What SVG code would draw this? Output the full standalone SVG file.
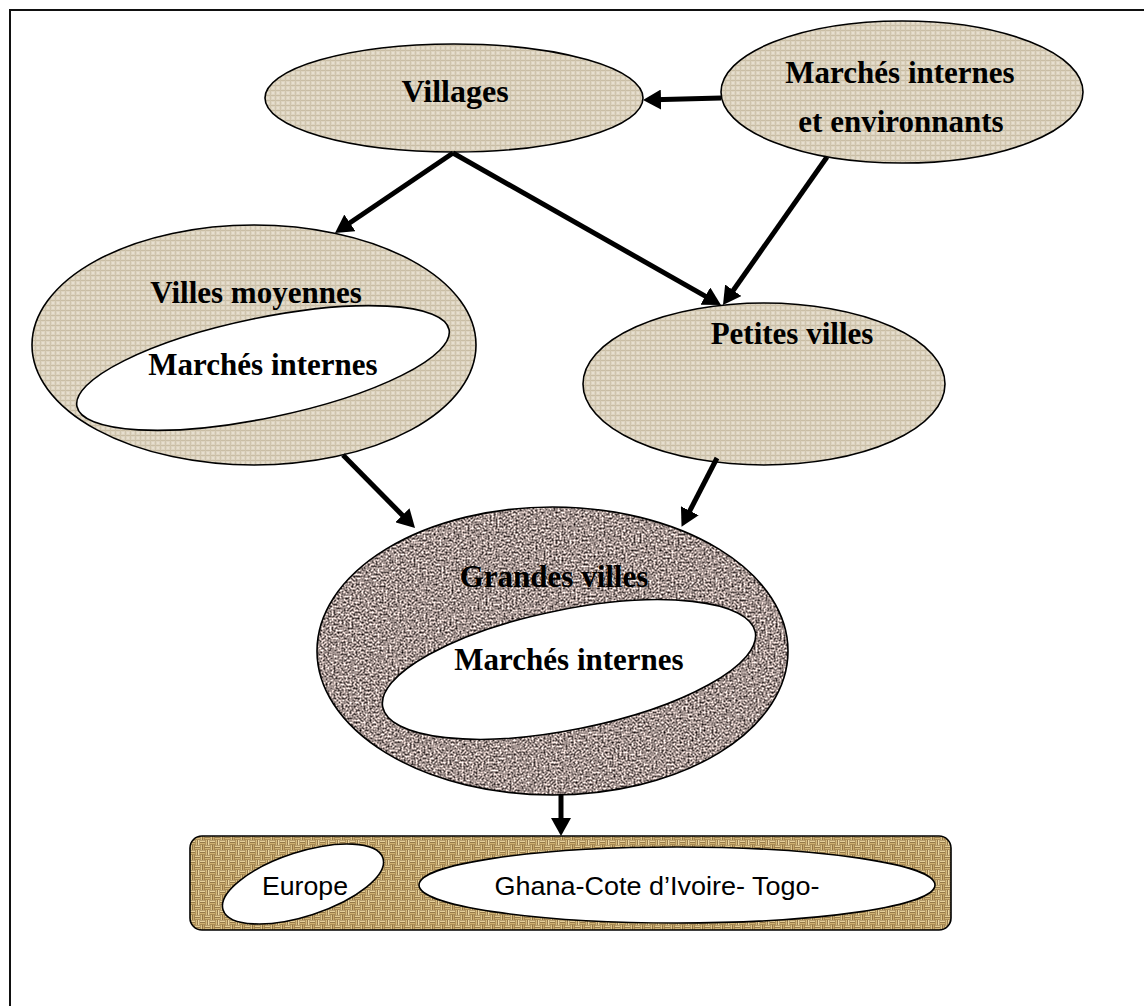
<svg xmlns="http://www.w3.org/2000/svg" width="1144" height="1006" viewBox="0 0 1144 1006">
<style>
.b{font-family:"Liberation Serif","Times New Roman",serif;font-weight:bold;font-size:31px;fill:#000;text-anchor:middle}
.c{font-family:"Liberation Sans",Arial,sans-serif;font-size:26px;fill:#000;text-anchor:middle}
.o{fill:none;stroke:#000;stroke-width:1.6}
.w{fill:#fff;stroke:#000;stroke-width:1.6}
.a{fill:none;stroke:#000;stroke-width:5;marker-end:url(#ah)}
</style>
<defs>
<pattern id="linen" width="5" height="5" patternUnits="userSpaceOnUse">
<rect width="5" height="5" fill="#ddd4c1"/>
<rect width="5" height="1" fill="#c9bda4"/>
<rect width="1" height="5" fill="#cfc4ad"/>
<rect x="2" y="2" width="2" height="2" fill="#e7dfcf"/>
</pattern>
<pattern id="burlap" width="10" height="10" patternUnits="userSpaceOnUse">
<rect width="10" height="10" fill="#6e5028"/>
<rect x="0" y="0.4" width="5" height="1.8" fill="#e6d09a"/>
<rect x="0" y="2.8" width="5" height="1.8" fill="#d0b272"/>
<rect x="5.4" y="0" width="1.8" height="5" fill="#d8bd80"/>
<rect x="7.8" y="0" width="1.8" height="5" fill="#ead6a2"/>
<rect x="0.4" y="5" width="1.8" height="5" fill="#dcc48a"/>
<rect x="2.8" y="5" width="1.8" height="5" fill="#c9aa6c"/>
<rect x="5" y="5.4" width="5" height="1.8" fill="#e4cc94"/>
<rect x="5" y="7.8" width="5" height="1.8" fill="#d3b77a"/>
</pattern>
<filter id="granite" x="0" y="0" width="100%" height="100%" color-interpolation-filters="sRGB">
<feTurbulence type="fractalNoise" baseFrequency="0.5" numOctaves="3" seed="11"/>
<feColorMatrix type="matrix" values="1.8 0 0 0 -0.26  1.7 0 0 0 -0.27  1.65 0 0 0 -0.26  0 0 0 0 1"/>
<feComposite in2="SourceAlpha" operator="in"/>
</filter>
<marker id="ah" viewBox="0 0 18 20" refX="7" refY="10" markerWidth="18" markerHeight="20" markerUnits="userSpaceOnUse" orient="auto">
<path d="M0,0 L18,10 L0,20 z" fill="#000"/>
</marker>
</defs>
<rect width="1144" height="1006" fill="#fff"/>
<g id="frame">
<path d="M10,1006 V10 H1144" fill="none" stroke="#111" stroke-width="2"/>
</g>
<g id="villages">
<ellipse cx="454" cy="98" rx="189" ry="54" fill="url(#linen)"/>
<ellipse class="o" cx="454" cy="98" rx="189" ry="54"/>
<text class="b" x="455" y="102" style="font-size:32px">Villages</text>
</g>
<g id="marches-environnants">
<ellipse cx="902" cy="92" rx="181" ry="71" fill="url(#linen)"/>
<ellipse class="o" cx="902" cy="92" rx="181" ry="71"/>
<text class="b" x="900" y="83">Marchés internes</text>
<text class="b" x="901" y="132">et environnants</text>
</g>
<g id="villes-moyennes">
<ellipse cx="254" cy="345" rx="222" ry="120" fill="url(#linen)"/>
<ellipse class="o" cx="254" cy="345" rx="222" ry="120"/>
<ellipse class="w" cx="263" cy="368" rx="190" ry="50" transform="rotate(-11.7 263 368)"/>
<text class="b" x="256" y="303">Villes moyennes</text>
<text class="b" x="263" y="375">Marchés internes</text>
</g>
<g id="petites-villes">
<ellipse cx="764" cy="384" rx="181" ry="81" fill="url(#linen)"/>
<ellipse class="o" cx="764" cy="384" rx="181" ry="81"/>
<text class="b" x="792" y="344">Petites villes</text>
</g>
<g id="grandes-villes">
<ellipse cx="552.5" cy="651" rx="235.5" ry="144" fill="#9a8b83" filter="url(#granite)"/>
<ellipse class="o" cx="552.5" cy="651" rx="235.5" ry="144"/>
<ellipse class="w" cx="569" cy="669.5" rx="190" ry="60" transform="rotate(-11.4 569 669.5)"/>
<text class="b" x="554" y="587">Grandes villes</text>
<text class="b" x="569" y="670">Marchés internes</text>
</g>
<g id="destinations">
<rect x="190" y="836" width="761" height="94" rx="12" fill="url(#burlap)" stroke="#000" stroke-width="1.6"/>
<ellipse class="w" cx="303" cy="884" rx="84" ry="32" transform="rotate(-18 303 884)"/>
<text class="c" x="305" y="895" textLength="86" lengthAdjust="spacingAndGlyphs">Europe</text>
<ellipse class="w" cx="677" cy="885" rx="258" ry="38"/>
<text class="c" x="657" y="895" textLength="325" lengthAdjust="spacingAndGlyphs">Ghana-Cote d’Ivoire- Togo-</text>
</g>
<g id="connectors">
<line class="a" x1="721" y1="98" x2="654" y2="99.7"/>
<line class="a" x1="453" y1="153" x2="344.1" y2="226.8"/>
<line class="a" x1="453" y1="153" x2="711.4" y2="299.6"/>
<line class="a" x1="827" y1="157" x2="729.3" y2="296"/>
<line class="a" x1="343" y1="455" x2="407.3" y2="520.2"/>
<line class="a" x1="717" y1="458" x2="686.6" y2="517"/>
<line class="a" x1="561" y1="795" x2="561" y2="825"/>
</g>
</svg>
